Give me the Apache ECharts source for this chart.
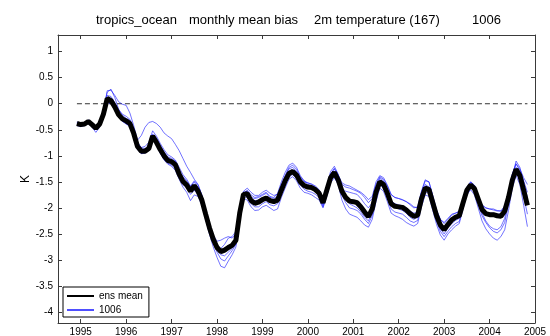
<!DOCTYPE html>
<html>
<head>
<meta charset="utf-8">
<script src="https://cdn.jsdelivr.net/npm/echarts@6/dist/echarts.min.js"></script>
<style>
  html, body { margin: 0; padding: 0; background: #fff; }
  #chart { width: 550px; height: 336px; }
</style>
</head>
<body>
<div id="chart"></div>
<script>
// monthly series, first value at 1995 - 1/12
const firstYear = 1995 - 1 / 12;
const yearTicks = [1995, 1996, 1997, 1998, 1999, 2000, 2001, 2002, 2003, 2004, 2005];
const kTicks = [-4, -3.5, -3, -2.5, -2, -1.5, -1, -0.5, 0, 0.5, 1];

const ensMean = [
  -0.38,-0.40,-0.39,-0.34,-0.40,-0.47,-0.39,-0.20,0.10,0.06,
  -0.06,-0.21,-0.29,-0.33,-0.38,-0.57,-0.82,-0.91,-0.91,-0.86,
  -0.62,-0.74,-0.88,-1.00,-1.09,-1.11,-1.17,-1.35,-1.49,-1.56,
  -1.68,-1.57,-1.68,-1.85,-2.12,-2.38,-2.60,-2.76,-2.84,-2.81,
  -2.76,-2.72,-2.62,-2.10,-1.74,-1.73,-1.86,-1.91,-1.89,-1.84,
  -1.81,-1.86,-1.88,-1.85,-1.66,-1.48,-1.34,-1.30,-1.37,-1.50,
  -1.57,-1.60,-1.61,-1.65,-1.72,-1.90,-1.66,-1.42,-1.32,-1.46,
  -1.68,-1.80,-1.87,-1.88,-1.90,-1.98,-2.08,-2.17,-2.02,-1.70,
  -1.50,-1.55,-1.72,-1.92,-1.97,-1.98,-1.99,-2.04,-2.11,-2.16,
  -2.14,-1.83,-1.62,-1.65,-1.90,-2.15,-2.33,-2.42,-2.32,-2.23,
  -2.18,-2.15,-1.90,-1.66,-1.56,-1.63,-1.83,-2.03,-2.11,-2.13,
  -2.13,-2.15,-2.16,-2.06,-1.80,-1.47,-1.26,-1.38,-1.66,-1.95
];

const member1 = [
  -0.35,-0.38,-0.39,-0.31,-0.38,-0.42,-0.37,-0.15,0.25,0.26,
  0.16,0.04,-0.01,-0.03,-0.18,-0.42,-0.70,-0.61,-0.45,-0.36,
  -0.34,-0.38,-0.45,-0.56,-0.62,-0.67,-0.78,-0.90,-1.05,-1.20,
  -1.32,-1.45,-1.55,-1.75,-2.05,-2.32,-2.55,-2.70,-2.78,-2.70,
  -2.58,-2.55,-2.45,-2.00,-1.70,-1.68,-1.80,-1.82,-1.80,-1.76,
  -1.72,-1.80,-1.82,-1.78,-1.58,-1.40,-1.25,-1.22,-1.30,-1.42,
  -1.50,-1.52,-1.55,-1.60,-1.66,-1.85,-1.60,-1.35,-1.25,-1.38,
  -1.55,-1.60,-1.62,-1.65,-1.68,-1.72,-1.80,-1.90,-1.82,-1.55,
  -1.40,-1.45,-1.58,-1.75,-1.80,-1.82,-1.85,-1.88,-1.92,-1.98,
  -2.00,-1.70,-1.48,-1.50,-1.78,-2.05,-2.22,-2.28,-2.20,-2.12,
  -2.10,-2.08,-1.85,-1.62,-1.52,-1.58,-1.78,-1.95,-2.00,-2.02,
  -2.02,-2.05,-2.06,-1.98,-1.72,-1.35,-1.15,-1.25,-1.42,-1.55
];
const member2 = [
  -0.42,-0.44,-0.42,-0.38,-0.45,-0.55,-0.45,-0.25,0.02,0.00,
  -0.12,-0.26,-0.33,-0.38,-0.43,-0.62,-0.88,-0.96,-0.95,-0.90,
  -0.68,-0.80,-0.95,-1.08,-1.16,-1.20,-1.28,-1.45,-1.60,-1.70,
  -1.86,-1.75,-1.78,-1.95,-2.22,-2.50,-2.75,-2.95,-3.12,-3.15,
  -3.02,-2.90,-2.75,-2.20,-1.82,-1.85,-1.98,-2.05,-2.04,-1.98,
  -1.95,-2.00,-2.05,-2.02,-1.80,-1.62,-1.45,-1.40,-1.48,-1.62,
  -1.70,-1.72,-1.75,-1.80,-1.85,-2.00,-1.78,-1.52,-1.42,-1.55,
  -1.85,-2.02,-2.12,-2.15,-2.18,-2.25,-2.33,-2.37,-2.22,-1.88,
  -1.62,-1.68,-1.88,-2.10,-2.15,-2.18,-2.22,-2.28,-2.32,-2.35,
  -2.30,-1.98,-1.75,-1.78,-2.05,-2.32,-2.52,-2.62,-2.50,-2.42,
  -2.35,-2.30,-2.02,-1.75,-1.65,-1.75,-2.00,-2.25,-2.40,-2.50,
  -2.58,-2.62,-2.55,-2.42,-2.05,-1.62,-1.38,-1.55,-1.95,-2.36
];
const member3 = [
  -0.36,-0.37,-0.36,-0.32,-0.38,-0.45,-0.35,-0.12,0.22,0.28,
  0.12,-0.10,-0.22,-0.28,-0.32,-0.50,-0.75,-0.85,-0.86,-0.80,
  -0.58,-0.66,-0.80,-0.92,-1.02,-1.05,-1.10,-1.28,-1.40,-1.48,
  -1.60,-1.50,-1.62,-1.82,-2.08,-2.35,-2.58,-2.78,-2.90,-2.92,
  -2.85,-2.78,-2.66,-2.12,-1.72,-1.66,-1.75,-1.80,-1.78,-1.74,
  -1.70,-1.78,-1.80,-1.72,-1.50,-1.32,-1.18,-1.14,-1.22,-1.38,
  -1.48,-1.55,-1.58,-1.62,-1.70,-1.95,-1.58,-1.30,-1.20,-1.35,
  -1.62,-1.78,-1.92,-1.96,-2.00,-2.08,-2.18,-2.25,-2.08,-1.68,
  -1.42,-1.48,-1.68,-1.90,-1.98,-2.02,-2.05,-2.10,-2.18,-2.22,
  -2.18,-1.82,-1.55,-1.60,-1.88,-2.18,-2.40,-2.50,-2.38,-2.30,
  -2.24,-2.20,-1.92,-1.64,-1.50,-1.58,-1.85,-2.10,-2.25,-2.35,
  -2.40,-2.42,-2.36,-2.20,-1.82,-1.40,-1.10,-1.22,-1.50,-1.80
];
const member4 = [
  -0.40,-0.42,-0.41,-0.37,-0.43,-0.50,-0.42,-0.24,0.04,0.02,
  -0.10,-0.25,-0.34,-0.39,-0.44,-0.62,-0.86,-0.95,-0.92,-0.84,
  -0.66,-0.78,-0.94,-1.06,-1.14,-1.18,-1.24,-1.40,-1.55,-1.62,
  -1.74,-1.66,-1.75,-1.92,-2.18,-2.44,-2.68,-2.85,-2.98,-3.02,
  -2.92,-2.82,-2.70,-2.15,-1.78,-1.80,-1.92,-1.98,-1.98,-1.92,
  -1.88,-1.94,-1.96,-1.92,-1.72,-1.54,-1.40,-1.36,-1.44,-1.56,
  -1.64,-1.68,-1.70,-1.74,-1.80,-1.98,-1.72,-1.48,-1.38,-1.52,
  -1.75,-1.90,-2.00,-2.02,-2.05,-2.12,-2.22,-2.30,-2.15,-1.78,
  -1.56,-1.62,-1.80,-2.02,-2.08,-2.10,-2.12,-2.18,-2.25,-2.28,
  -2.24,-1.90,-1.70,-1.72,-1.98,-2.25,-2.45,-2.55,-2.45,-2.36,
  -2.30,-2.26,-1.98,-1.70,-1.60,-1.68,-1.92,-2.15,-2.28,-2.38,
  -2.45,-2.48,-2.42,-2.28,-1.92,-1.55,-1.32,-1.45,-1.78,-2.12
];
const member5 = [
  -0.37,-0.39,-0.37,-0.33,-0.38,-0.44,-0.36,-0.16,0.16,0.14,
  0.02,-0.12,-0.20,-0.24,-0.30,-0.48,-0.74,-0.84,-0.82,-0.74,
  -0.52,-0.62,-0.76,-0.88,-0.98,-1.02,-1.08,-1.22,-1.36,-1.45,
  -1.58,-1.48,-1.56,-1.76,-2.04,-2.30,-2.52,-2.64,-2.62,-2.58,
  -2.55,-2.58,-2.50,-2.02,-1.68,-1.62,-1.70,-1.76,-1.76,-1.70,
  -1.66,-1.72,-1.76,-1.74,-1.56,-1.38,-1.22,-1.18,-1.26,-1.40,
  -1.48,-1.52,-1.54,-1.58,-1.65,-1.86,-1.62,-1.36,-1.24,-1.36,
  -1.52,-1.56,-1.58,-1.62,-1.66,-1.70,-1.76,-1.84,-1.78,-1.50,
  -1.38,-1.42,-1.56,-1.74,-1.80,-1.82,-1.84,-1.88,-1.94,-2.00,
  -1.98,-1.68,-1.46,-1.50,-1.76,-2.04,-2.22,-2.30,-2.22,-2.14,
  -2.10,-2.06,-1.84,-1.60,-1.50,-1.56,-1.76,-1.94,-2.00,-2.02,
  -2.04,-2.06,-2.06,-1.96,-1.70,-1.36,-1.16,-1.28,-1.48,-1.70
];
const member6 = [
  -0.38,-0.41,-0.36,-0.35,-0.42,-0.48,-0.40,-0.22,0.08,0.10,
  -0.02,-0.18,-0.26,-0.30,-0.36,-0.55,-0.78,-0.88,-0.88,-0.82,
  -0.60,-0.70,-0.84,-0.96,-1.04,-1.08,-1.14,-1.32,-1.46,-1.52,
  -1.64,-1.54,-1.64,-1.82,-2.10,-2.36,-2.60,-2.78,-2.86,-2.84,
  -2.78,-2.70,-2.58,-2.08,-1.76,-1.76,-1.84,-1.86,-1.85,-1.82,
  -1.78,-1.84,-1.86,-1.82,-1.62,-1.45,-1.30,-1.26,-1.34,-1.46,
  -1.54,-1.58,-1.60,-1.64,-1.70,-1.92,-1.66,-1.40,-1.30,-1.42,
  -1.62,-1.68,-1.70,-1.72,-1.74,-1.82,-1.92,-2.00,-1.90,-1.62,
  -1.46,-1.50,-1.66,-1.86,-1.92,-1.94,-1.96,-2.00,-2.06,-2.10,
  -2.08,-1.78,-1.58,-1.62,-1.86,-2.12,-2.30,-2.38,-2.28,-2.20,
  -2.16,-2.12,-1.88,-1.66,-1.56,-1.62,-1.82,-2.00,-2.08,-2.10,
  -2.10,-2.12,-2.12,-2.02,-1.78,-1.46,-1.22,-1.34,-1.60,-1.88
];
const members = [member1, member2, member3, member4, member5, member6];

const toPairs = vals => vals.map((v, i) => [firstYear + i / 12, v]);
const lastYear = firstYear + (ensMean.length - 1) / 12;

const font = 'Liberation Sans, Arial, Helvetica, sans-serif';
const frame = '#3a3a3a';

const chart = echarts.init(document.getElementById('chart'));

const memberSeries = members.map(m => ({
  name: '1006',
  type: 'line',
  data: toPairs(m),
  symbol: 'none',
  silent: true,
  color: '#2a2aff',
  lineStyle: { color: 'rgba(20,20,255,0.75)', width: 0.8 },
  z: 2,
}));

chart.setOption({
  animation: false,
  textStyle: { fontFamily: font },
  title: [
    { text: 'tropics_ocean', left: 91, top: 9 },
    { text: 'monthly mean bias', left: 184, top: 9 },
    { text: '2m temperature (167)', left: 309, top: 9 },
    { text: '1006', left: 467, top: 9 },
  ].map(t => ({
    ...t,
    textStyle: { fontSize: 13, fontWeight: 'normal', color: '#000', fontFamily: font },
  })),
  grid: { left: 58, right: 15, top: 35, bottom: 13, outerBoundsMode: 'none' },
  legend: {
    orient: 'vertical',
    left: 63,
    top: 287,
    data: ['ens mean', '1006'],
    itemWidth: 27,
    itemHeight: 10,
    itemGap: 4,
    padding: [4, 6, 2, 3],
    backgroundColor: '#fff',
    borderColor: '#000',
    borderWidth: 1,
    borderRadius: 0,
    itemStyle: { opacity: 0 },
    textStyle: { fontSize: 10, color: '#000', fontFamily: font },
  },
  xAxis: [
    {
      type: 'value',
      min: 1994.5,
      max: 2005,
      axisLine: { onZero: false, lineStyle: { color: frame } },
      axisTick: { inside: true, length: 4, customValues: yearTicks, lineStyle: { color: frame } },
      axisLabel: { customValues: yearTicks, fontSize: 10, color: '#000', margin: 4, formatter: v => String(v) },
      splitLine: { show: false },
    },
    {
      type: 'value',
      position: 'top',
      min: 1994.5,
      max: 2005,
      axisLine: { onZero: false, lineStyle: { color: frame } },
      axisTick: { inside: true, length: 4, customValues: yearTicks, lineStyle: { color: frame } },
      axisLabel: { show: false },
      splitLine: { show: false },
    },
  ],
  yAxis: [
    {
      type: 'value',
      min: -4.21,
      max: 1.32,
      name: 'K',
      nameLocation: 'middle',
      nameGap: 26,
      nameMoveOverlap: false,
      nameTextStyle: { fontSize: 12, color: '#000' },
      axisLine: { show: true, onZero: false, lineStyle: { color: frame } },
      axisTick: { show: true, inside: true, length: 4, customValues: kTicks, lineStyle: { color: frame } },
      axisLabel: { customValues: kTicks, fontSize: 10, color: '#000', margin: 5 },
      splitLine: { show: false },
    },
    {
      type: 'value',
      position: 'right',
      min: -4.21,
      max: 1.32,
      axisLine: { show: true, onZero: false, lineStyle: { color: frame } },
      axisTick: { show: true, inside: true, length: 4, customValues: kTicks, lineStyle: { color: frame } },
      axisLabel: { show: false },
      splitLine: { show: false },
    },
  ],
  series: [
    {
      name: 'zero',
      type: 'line',
      data: [[firstYear, 0], [lastYear, 0]],
      symbol: 'none',
      silent: true,
      lineStyle: { color: '#333', width: 1, type: [5, 3] },
      z: 1,
    },
    ...memberSeries,
    {
      name: 'ens mean',
      type: 'line',
      data: toPairs(ensMean),
      symbol: 'none',
      silent: true,
      color: '#000',
      lineStyle: { color: '#000', width: 5 },
      z: 3,
    },
  ],
});
</script>
</body>
</html>
